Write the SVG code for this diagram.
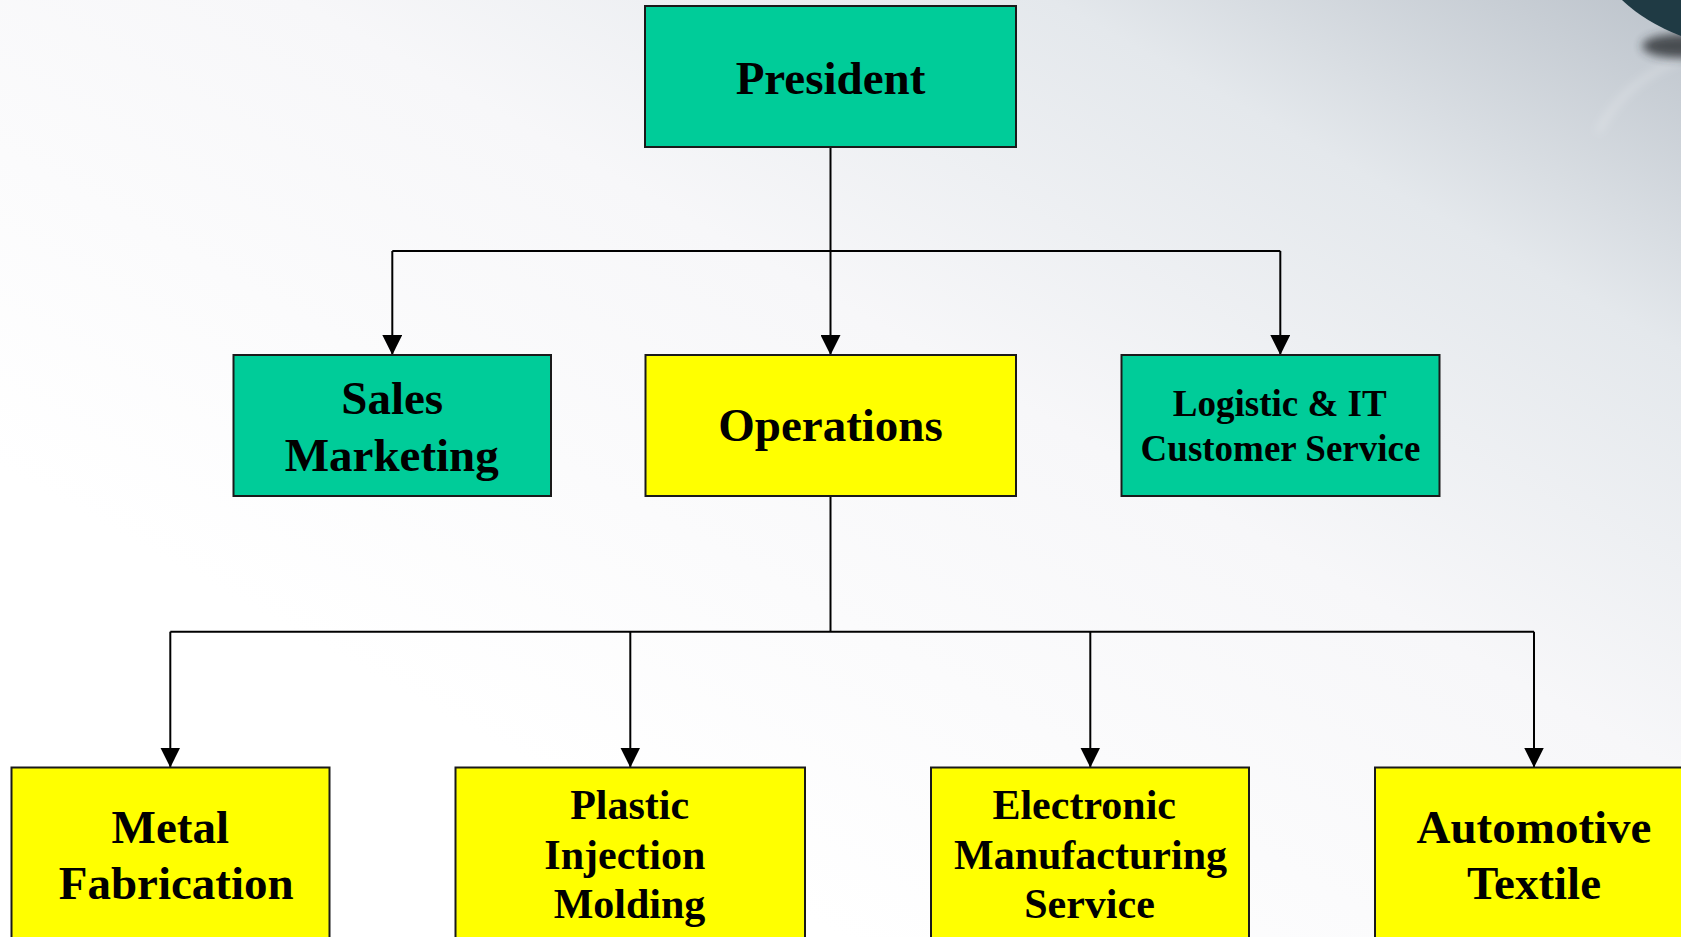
<svg xmlns="http://www.w3.org/2000/svg" width="1681" height="937" viewBox="0 0 1681 937">
<defs>
<linearGradient id="bg" x1="0.25" y1="0.75" x2="1" y2="0">
<stop offset="0" stop-color="#ffffff"/>
<stop offset="0.45" stop-color="#f7f7f9"/>
<stop offset="0.75" stop-color="#e4e8ec"/>
<stop offset="1" stop-color="#bcc3cb"/>
</linearGradient>
<filter id="blur" x="-50%" y="-50%" width="200%" height="200%"><feGaussianBlur stdDeviation="5"/></filter>
<marker id="arr" markerUnits="userSpaceOnUse" markerWidth="20" markerHeight="20" viewBox="0 0 20 20" refX="20" refY="10" orient="auto">
<path d="M0,0 L20,10 L0,20 z" fill="#000"/>
</marker>
<style>
.teal{fill:#00cc99;stroke:#1a1a1a;stroke-width:2}
.yel{fill:#ffff00;stroke:#1a1a1a;stroke-width:2}
text{font-family:"Liberation Serif","Times New Roman",serif;font-weight:bold;fill:#000;text-anchor:middle}
.f47{font-size:47px}
.f42{font-size:42px}
.f37{font-size:37px}
.ln{fill:none;stroke:#000;stroke-width:2}
</style>
</defs>
<rect x="0" y="0" width="1681" height="937" fill="url(#bg)"/>
<g id="decor">
<path d="M1598,132 Q1625,80 1681,60" fill="none" stroke="#ffffff" stroke-opacity="0.45" stroke-width="3" filter="url(#blur)"/>
<ellipse cx="1680" cy="46" rx="38" ry="12" fill="#2a2f33" opacity="0.8" filter="url(#blur)"/>
<path d="M1622,0 Q1645,22 1681,36 L1681,0 Z" fill="#1f3a44"/>
</g>
<g id="connectors">
<path class="ln" d="M830.5,147 V251"/>
<path class="ln" d="M392.3,251 H1280.3"/>
<path class="ln" d="M392.3,251 V355" marker-end="url(#arr)"/>
<path class="ln" d="M830.5,251 V355" marker-end="url(#arr)"/>
<path class="ln" d="M1280.3,251 V355" marker-end="url(#arr)"/>
<path class="ln" d="M830.5,496 V631.7"/>
<path class="ln" d="M170.3,631.7 H1534"/>
<path class="ln" d="M170.3,631.7 V767.5" marker-end="url(#arr)"/>
<path class="ln" d="M630.3,631.7 V767.5" marker-end="url(#arr)"/>
<path class="ln" d="M1090.3,631.7 V767.5" marker-end="url(#arr)"/>
<path class="ln" d="M1534,631.7 V767.5" marker-end="url(#arr)"/>
</g>
<g id="president">
<rect class="teal" x="645" y="6" width="371" height="141"/>
<text class="f47" x="830.5" y="94">President</text>
</g>
<g id="sales">
<rect class="teal" x="233.5" y="355" width="317.5" height="141"/>
<text class="f47" x="392.2" y="414">Sales</text>
<text class="f47" x="391.7" y="470.7">Marketing</text>
</g>
<g id="operations">
<rect class="yel" x="645.5" y="355" width="370.5" height="141"/>
<text class="f47" x="830.5" y="441">Operations</text>
</g>
<g id="logistic">
<rect class="teal" x="1121.5" y="355" width="318" height="141"/>
<text class="f37" x="1279.7" y="416">Logistic &amp; IT</text>
<text class="f37" x="1280.5" y="460.7">Customer Service</text>
</g>
<g id="metal">
<rect class="yel" x="11.5" y="767.5" width="318" height="200"/>
<text class="f47" x="170.3" y="842.7">Metal</text>
<text class="f47" x="176.2" y="899.3">Fabrication</text>
</g>
<g id="plastic">
<rect class="yel" x="455.5" y="767.5" width="349.5" height="200"/>
<text class="f42" x="629.7" y="819">Plastic</text>
<text class="f42" x="624.8" y="869.3">Injection</text>
<text class="f42" x="629.5" y="918.3">Molding</text>
</g>
<g id="electronic">
<rect class="yel" x="931" y="767.5" width="318" height="200"/>
<text class="f42" x="1084.2" y="819">Electronic</text>
<text class="f42" x="1090.5" y="869.3">Manufacturing</text>
<text class="f42" x="1089.5" y="918.3">Service</text>
</g>
<g id="automotive">
<rect class="yel" x="1375" y="767.5" width="400" height="200"/>
<text class="f47" x="1534" y="843">Automotive</text>
<text class="f47" x="1534" y="899.3">Textile</text>
</g>
</svg>
